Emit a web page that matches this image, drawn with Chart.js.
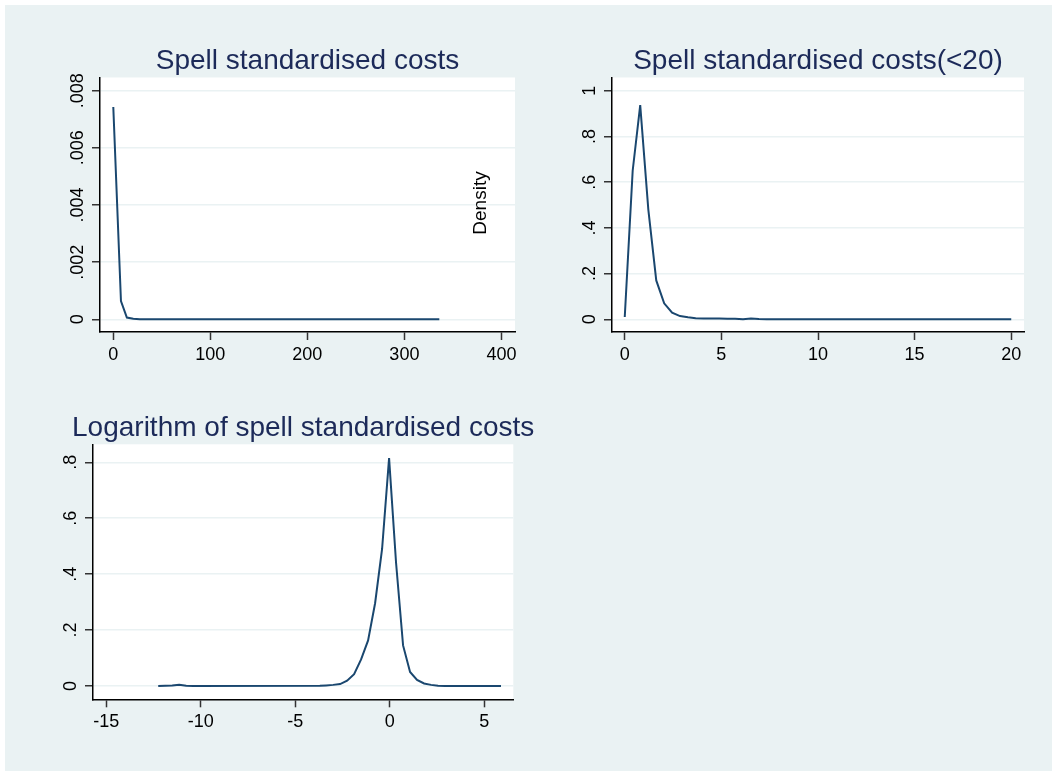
<!DOCTYPE html>
<html>
<head>
<meta charset="utf-8">
<script src="https://cdn.jsdelivr.net/npm/chart.js@4.4.0/dist/chart.umd.min.js"></script>
<style>
  html, body { margin: 0; padding: 0; background: #ffffff; }
  #page { position: absolute; left: 5px; top: 5px; width: 1047px; height: 766px; background: #eaf2f3; }
  canvas { position: absolute; }
</style>
</head>
<body>
<div id="page"></div>
<canvas id="c1" width="530" height="385" style="left:0px;top:0px"></canvas>
<canvas id="c2" width="522" height="385" style="left:530px;top:0px"></canvas>
<canvas id="c3" width="600" height="386" style="left:0px;top:385px"></canvas>
<script>
// panel 1 - all spell costs
const costX = [0, 7.9, 14, 20.6, 27.4, 41, 336];
const costY = [0.00743, 0.00064, 0.00006, 0.00002, 0.000005, 0, 0];
const costXTicks = [0, 100, 200, 300, 400];
const costXLabels = ['0', '100', '200', '300', '400'];
const costYTicks = [0, 0.002, 0.004, 0.006, 0.008];
const costYLabels = ['0', '.002', '.004', '.006', '.008'];

// panel 2 - costs below 20
const lowX = [0, 0.41, 0.8, 1.22, 1.63, 2.04, 2.45, 2.86, 3.27, 3.67, 4.08, 4.49, 4.9, 5.31, 5.71, 6.12, 6.53, 6.94, 7.35, 20];
const lowY = [0.01, 0.65, 0.937, 0.48, 0.17, 0.07, 0.029, 0.014, 0.009, 0.005, 0.004, 0.003, 0.003, 0.002, 0.002, 0, 0.003, 0.001, 0, 0];
const lowXTicks = [0, 5, 10, 15, 20];
const lowXLabels = ['0', '5', '10', '15', '20'];
const lowYTicks = [0, 0.2, 0.4, 0.6, 0.8, 1];
const lowYLabels = ['0', '.2', '.4', '.6', '.8', '1'];

// panel 3 - log costs
const logX = [-12.25, -11.88, -11.51, -11.14, -10.77, -10.4, -3.7, -3.37, -3.0, -2.63, -2.26, -1.89, -1.52, -1.15, -0.78, -0.41, -0.04, 0.33, 0.7, 1.07, 1.44, 1.81, 2.18, 2.55, 2.92, 5.88];
const logY = [0, 0.001, 0.002, 0.004, 0.001, 0, 0.0005, 0.002, 0.004, 0.007, 0.019, 0.042, 0.095, 0.163, 0.296, 0.49, 0.815, 0.44, 0.145, 0.05, 0.022, 0.009, 0.004, 0.001, 0, 0];
const logXTicks = [-15, -10, -5, 0, 5];
const logXLabels = ['-15', '-10', '-5', '0', '5'];
const logYTicks = [0, 0.2, 0.4, 0.6, 0.8];
const logYLabels = ['0', '.2', '.4', '.6', '.8'];

const FONT = '"Liberation Sans", Arial, sans-serif';
const LINE = '#1a476f';
const TITLE = '#1c2a59';
const GRID = '#eaf2f3';

// white plot region, title, rotated y labels, extra text
const panelPlugin = {
  id: 'panelPlugin',
  beforeDraw(chart) {
    const a = chart.chartArea;
    const ctx = chart.ctx;
    ctx.save();
    ctx.fillStyle = '#ffffff';
    ctx.fillRect(a.left, a.top, a.right - a.left, a.bottom - a.top);
    ctx.restore();
  },
  afterDraw(chart) {
    const o = chart.options.plugins.panelPlugin;
    const a = chart.chartArea;
    const ctx = chart.ctx;
    ctx.save();
    ctx.fillStyle = TITLE;
    ctx.font = '28px ' + FONT;
    ctx.textAlign = 'center';
    ctx.textBaseline = 'alphabetic';
    ctx.fillText(o.title, (a.left + a.right) / 2 + (o.titleShift || 0), a.top - 8.5);

    const ys = chart.scales.y;
    ctx.fillStyle = '#000000';
    ctx.font = '18px ' + FONT;
    o.yTicks.forEach((v, i) => {
      const py = ys.getPixelForValue(v);
      ctx.save();
      ctx.translate(a.left - 17, py);
      ctx.rotate(-Math.PI / 2);
      ctx.fillText(o.yLabels[i], 0, 0);
      ctx.restore();
    });
    if (o.extra) {
      ctx.save();
      ctx.translate(o.extra.x, o.extra.y);
      ctx.rotate(-Math.PI / 2);
      ctx.font = '19px ' + FONT;
      ctx.textBaseline = 'middle';
      ctx.fillText(o.extra.text, 0, 0);
      ctx.restore();
    }
    ctx.restore();
  }
};

function makePanel(id, cfg) {
  const ctx = document.getElementById(id).getContext('2d');
  const pts = cfg.xs.map((x, i) => ({ x: x, y: cfg.ys[i] }));
  return new Chart(ctx, {
    type: 'line',
    data: {
      datasets: [{
        data: pts,
        borderColor: LINE,
        borderWidth: 2,
        pointRadius: 0,
        tension: 0,
        fill: false
      }]
    },
    options: {
      responsive: false,
      animation: false,
      layout: { padding: cfg.padding },
      plugins: {
        legend: { display: false },
        tooltip: { enabled: false },
        title: { display: false },
        panelPlugin: {
          title: cfg.title,
          yTicks: cfg.yTicks,
          yLabels: cfg.yLabels,
          extra: cfg.extra
        }
      },
      scales: {
        x: {
          type: 'linear',
          min: cfg.xMin,
          max: cfg.xMax,
          afterBuildTicks: (s) => { s.ticks = cfg.xTicks.map(v => ({ value: v })); },
          afterFit: (s) => { s.height = cfg.xHeight; },
          ticks: {
            color: '#000000',
            font: { family: FONT, size: 18 },
            padding: 4,
            maxRotation: 0,
            callback: (v) => cfg.xLabels[cfg.xTicks.indexOf(v)]
          },
          grid: {
            drawOnChartArea: false,
            drawTicks: true,
            tickLength: 8,
            tickColor: '#333333',
            tickWidth: 1.5
          },
          border: { display: true, color: '#000000', width: 1.5 }
        },
        y: {
          type: 'linear',
          min: cfg.yMin,
          max: cfg.yMax,
          afterBuildTicks: (s) => { s.ticks = cfg.yTicks.map(v => ({ value: v })); },
          afterFit: (s) => { s.width = cfg.yWidth; },
          ticks: { display: false },
          grid: {
            color: GRID,
            lineWidth: 1.5,
            drawTicks: true,
            tickLength: 8,
            tickColor: '#333333',
            tickWidth: 1.5
          },
          border: { display: true, color: '#000000', width: 1.5 }
        }
      }
    },
    plugins: [panelPlugin]
  });
}

makePanel('c1', {
  title: 'Spell standardised costs',
  xs: costX, ys: costY,
  xTicks: costXTicks, xLabels: costXLabels,
  yTicks: costYTicks, yLabels: costYLabels,
  xMin: -13.7, xMax: 414, yMin: -0.000444, yMax: 0.00846,
  yWidth: 100, xHeight: 53,
  padding: { left: 0, top: 77.5, right: 15, bottom: 0 },
  extra: { text: 'Density', x: 481, y: 203 }
});

makePanel('c2', {
  title: 'Spell standardised costs(<20)',
  xs: lowX, ys: lowY,
  xTicks: lowXTicks, xLabels: lowXLabels,
  yTicks: lowYTicks, yLabels: lowYLabels,
  xMin: -0.66, xMax: 20.66, yMin: -0.0556, yMax: 1.058,
  yWidth: 82, xHeight: 53,
  padding: { left: 0, top: 77.5, right: 28, bottom: 0 }
});

makePanel('c3', {
  title: 'Logarithm of spell standardised costs',
  xs: logX, ys: logY,
  xTicks: logXTicks, xLabels: logXLabels,
  yTicks: logYTicks, yLabels: logYLabels,
  xMin: -15.7, xMax: 6.53, yMin: -0.0476, yMax: 0.8645,
  yWidth: 93, xHeight: 71.7,
  padding: { left: 0, top: 59.3, right: 86.7, bottom: 0 },
  titleShift: 2
});
</script>
</body>
</html>
